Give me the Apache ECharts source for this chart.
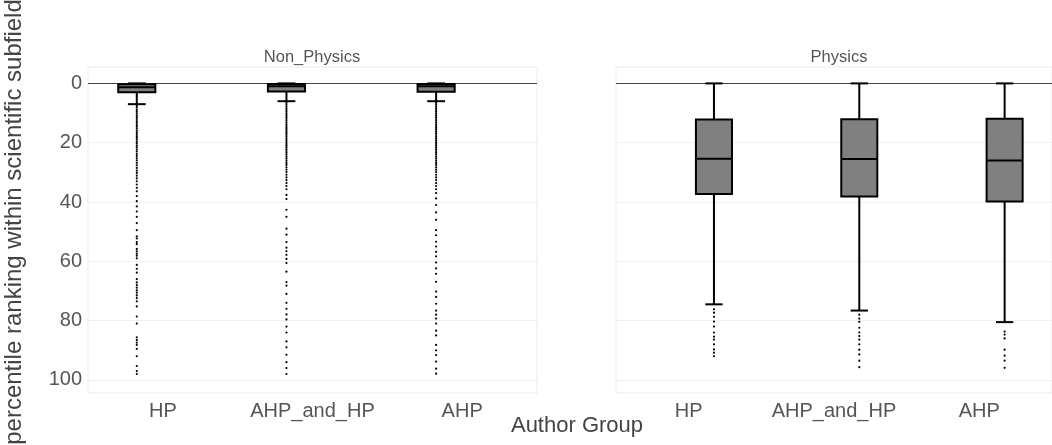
<!DOCTYPE html>
<html>
<head>
<meta charset="utf-8">
<script src="https://cdn.jsdelivr.net/npm/echarts@6/dist/echarts.min.js"></script>
<style>
html,body{margin:0;padding:0;background:#fff;}
#chart{width:1052px;height:445px;}
</style>
</head>
<body>
<div id="chart"></div>
<script>
// ---- data ----
const categories = ['HP', 'AHP_and_HP', 'AHP'];
const panelTitles = ['Non_Physics', 'Physics'];
const yTicks = [0, 20, 40, 60, 80, 100];
// [lower fence, q1, median, q3, upper fence] per category
const nonPhysicsStats = [
  [0, 0.3, 1.3, 3.0, 7.0],
  [0, 0.2, 1.0, 2.7, 6.0],
  [0, 0.2, 1.0, 2.8, 6.0]
];
const physicsStats = [
  [0, 12.2, 25.4, 37.3, 74.5],
  [0, 12.1, 25.5, 38.1, 76.6],
  [0, 11.9, 26.0, 39.8, 80.5]
];
// outliers per category
const nonPhysicsOutHP = [7.6,8.2,8.9,9.5,10.1,10.8,11.4,12.0,12.7,13.3,14.0,14.6,15.2,15.9,16.5,17.1,17.8,18.4,19.0,19.7,20.3,21.0,21.6,22.3,23.0,23.8,24.5,25.3,26.0,26.8,27.6,28.5,29.4,30.2,31.1,32.0,33.0,34.1,35.2,36.4,38.0,39.7,41.5,43.2,45.0,47.1,49.5,51.6,52.3,53.5,54.2,55.8,56.6,57.4,58.1,59.0,61.2,62.5,63.8,66.0,67.1,68.0,68.9,69.8,70.6,71.5,72.4,73.5,75.2,78.6,81.0,85.6,86.5,87.4,88.2,89.5,92.0,95.3,97.0,98.0];
const nonPhysicsOutAHPandHP = [6.6,7.2,7.8,8.4,9.0,9.6,10.2,10.8,11.4,12.0,12.6,13.2,13.8,14.4,15.0,15.6,16.2,16.8,17.4,18.0,18.6,19.2,19.8,20.4,21.0,21.6,22.2,22.8,23.4,24.0,24.7,25.4,26.1,26.8,27.5,28.3,29.1,29.9,30.8,31.7,32.6,33.6,34.6,35.7,37.6,39.0,42.6,45.0,49.0,51.0,53.5,55.4,56.6,57.8,59.2,60.6,63.5,67.0,68.2,71.0,74.0,76.0,77.9,79.6,82.0,84.0,87.0,89.0,91.5,94.0,96.0,98.0];
const nonPhysicsOutAHP = [6.6,7.2,7.8,8.4,9.0,9.6,10.2,10.8,11.4,12.0,12.6,13.2,13.8,14.4,15.0,15.6,16.2,16.8,17.4,18.0,18.6,19.2,19.8,20.4,21.0,21.6,22.2,22.8,23.4,24.0,24.7,25.4,26.1,26.8,27.5,28.3,29.1,29.9,30.8,31.7,32.6,33.6,34.6,35.7,37.0,38.8,41.0,43.5,46.0,49.5,51.2,53.4,55.0,56.8,58.3,60.4,62.4,64.2,66.9,70.2,72.0,74.3,76.6,78.0,79.3,81.0,83.4,85.0,88.2,90.0,91.6,93.8,96.2,97.9];
const physicsOutHP = [76.2,77.3,78.7,80.3,82.0,84.0,85.4,86.4,88.0,89.7,90.8,92.0];
const physicsOutAHPandHP = [78.0,79.3,80.4,82.4,84.0,85.2,86.4,88.0,89.8,91.4,93.5,95.7];
const physicsOutAHP = [83.7,84.7,86.0,89.8,91.8,93.5,95.9];

// ---- build ----
const FONT = 'Liberation Sans, Arial, sans-serif';
const TXT = '#555';
const Y_MIN = -5.53, Y_MAX = 104.4;

function boxData(stats) {
  return stats.map((s, i) => [i].concat(s));
}
function outData(lists) {
  const out = [];
  lists.forEach((list, i) => list.forEach(v => out.push([i, v])));
  return out;
}
function boxRender(sign) {
  return function (params, api) {
    const ci = api.value(0);
    const band = api.size([1, 0])[0];
    const c = api.coord([ci, 0])[0] + sign * band * 0.174;
    const bw = band * 0.248;
    const cap = bw * 0.48;
    const y = k => api.coord([ci, api.value(k)])[1];
    const yLo = y(1), yQ1 = y(2), yMed = y(3), yQ3 = y(4), yHi = y(5);
    const ls = { stroke: '#000', lineWidth: 2 };
    return {
      type: 'group',
      children: [
        { type: 'line', shape: { x1: c, y1: yLo, x2: c, y2: yQ1 }, style: ls },
        { type: 'line', shape: { x1: c, y1: yQ3, x2: c, y2: yHi }, style: ls },
        { type: 'line', shape: { x1: c - cap / 2, y1: yLo, x2: c + cap / 2, y2: yLo }, style: ls },
        { type: 'line', shape: { x1: c - cap / 2, y1: yHi, x2: c + cap / 2, y2: yHi }, style: ls },
        { type: 'rect', shape: { x: c - bw / 2, y: Math.min(yQ1, yQ3), width: bw, height: Math.abs(yQ3 - yQ1) },
          style: { fill: '#808080', stroke: '#000', lineWidth: 2 } },
        { type: 'line', shape: { x1: c - bw / 2, y1: yMed, x2: c + bw / 2, y2: yMed }, style: ls }
      ]
    };
  };
}
function outRender(sign) {
  return function (params, api) {
    const ci = api.value(0);
    const band = api.size([1, 0])[0];
    const p = api.coord([ci, api.value(1)]);
    return {
      type: 'circle',
      shape: { cx: p[0] + sign * band * 0.174, cy: p[1], r: 1.1 },
      style: { fill: '#000' }
    };
  };
}

function xAxisFor(gi) {
  return {
    type: 'category', gridIndex: gi, data: categories, boundaryGap: true,
    axisLine: { show: false }, axisTick: { show: false }, splitLine: { show: false },
    axisLabel: { interval: 0, hideOverlap: false, color: TXT, fontSize: 20, fontFamily: FONT, margin: 8 }
  };
}
function yAxisFor(gi, showLabels) {
  return {
    type: 'value', gridIndex: gi, inverse: true, min: Y_MIN, max: Y_MAX,
    axisLine: { show: false },
    axisTick: { show: false, customValues: yTicks },
    axisLabel: { show: showLabels, customValues: yTicks, color: TXT, fontSize: 20, fontFamily: FONT, margin: 6 },
    splitLine: { show: true, lineStyle: { color: ['#444', '#f0f0f0', '#f0f0f0', '#f0f0f0', '#f0f0f0', '#f0f0f0'], width: 1 } }
  };
}

const option = {
  backgroundColor: '#fff',
  animation: false,
  grid: [
    { left: 88, top: 67, width: 449, height: 326, show: true, backgroundColor: '#fff', borderColor: '#ececec', borderWidth: 1 },
    { left: 616, top: 67, width: 446, height: 326, show: true, backgroundColor: '#fff', borderColor: '#ececec', borderWidth: 1 }
  ],
  xAxis: [xAxisFor(0), xAxisFor(1)],
  yAxis: [yAxisFor(0, true), yAxisFor(1, false)],
  series: [
    { type: 'custom', xAxisIndex: 0, yAxisIndex: 0, renderItem: outRender(-1),
      data: outData([nonPhysicsOutHP, nonPhysicsOutAHPandHP, nonPhysicsOutAHP]), encode: { x: 0, y: 1 } },
    { type: 'custom', xAxisIndex: 0, yAxisIndex: 0, renderItem: boxRender(-1),
      data: boxData(nonPhysicsStats), encode: { x: 0, y: [1, 2, 3, 4, 5] } },
    { type: 'custom', xAxisIndex: 1, yAxisIndex: 1, renderItem: outRender(1),
      data: outData([physicsOutHP, physicsOutAHPandHP, physicsOutAHP]), encode: { x: 0, y: 1 } },
    { type: 'custom', xAxisIndex: 1, yAxisIndex: 1, renderItem: boxRender(1),
      data: boxData(physicsStats), encode: { x: 0, y: [1, 2, 3, 4, 5] } }
  ],
  graphic: [
    { type: 'text', x: 312, y: 57, style: { text: panelTitles[0], fill: TXT, font: '16.5px ' + FONT, align: 'center', verticalAlign: 'middle' } },
    { type: 'text', x: 839, y: 57, style: { text: panelTitles[1], fill: TXT, font: '16.5px ' + FONT, align: 'center', verticalAlign: 'middle' } },
    { type: 'text', x: 577, y: 426, style: { text: 'Author Group', fill: '#444', font: '22px ' + FONT, align: 'center', verticalAlign: 'middle' } },
    { type: 'text', x: 14, y: 222, rotation: Math.PI / 2,
      style: { text: 'percentile ranking within scientific subfield', fill: '#444', font: '24px ' + FONT, align: 'center', verticalAlign: 'middle' } }
  ]
};

const chart = echarts.init(document.getElementById('chart'), null, { renderer: 'canvas' });
chart.setOption(option);
</script>
</body>
</html>
